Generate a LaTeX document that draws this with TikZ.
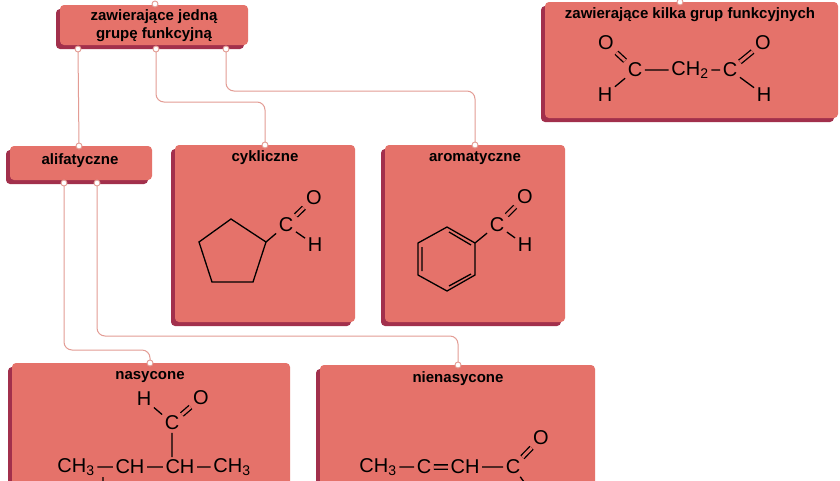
\documentclass[tikz,border=0pt]{standalone}
\usepackage{fontspec}
\setmainfont{Liberation Sans}
\usepackage{tikz}
\usetikzlibrary{calc}
\definecolor{boxfill}{HTML}{E5726A}
\definecolor{boxshade}{HTML}{A2304C}
\definecolor{linkcol}{HTML}{E39C94}
\tikzset{
  box/.style={draw=none, fill=boxfill, rounded corners=4pt, inner sep=0pt,
    font=\bfseries\fontsize{15}{18}\selectfont, align=center},
  shade/.style={fill=boxshade, rounded corners=4pt},
  link/.style={draw=linkcol, line width=1pt, rounded corners=8pt},
  port/.style={circle, draw=linkcol, fill=white, line width=0.9pt, inner sep=0pt, minimum size=6pt},
  atom/.style={font=\fontsize{20}{20}\selectfont, inner sep=2.5pt},
  bond/.style={line width=1.3pt},
  dbond/.style={bond, double=boxfill, double distance=3pt},
}
\newcommand{\shadedbox}[5]{% name, x1, y1, x2, y2
  \fill[shade] (#2-4,#3+4) rectangle (#4-4,#5+4);
  \path[box] (#2,#3) rectangle (#4,#5);
  \coordinate (#1) at (#2,#3);
}
\begin{document}
\begin{tikzpicture}[x=1pt,y=-1pt]
\useasboundingbox (0,0) rectangle (840,480);
\fill[white] (0,0) rectangle (840,480);

% boxes
\shadedbox{topA}{60}{5}{248}{45}
\shadedbox{topB}{545}{2}{838}{118}
\shadedbox{ali}{10}{146}{152}{180}
\shadedbox{cyk}{175}{145}{355}{322}
\shadedbox{aro}{385}{145}{565}{322}
\shadedbox{nas}{12}{363}{290}{500}
\shadedbox{nien}{320}{365}{595}{500}

% titles
\node[box, fill=none] (tA) at (154,26) {zawierające jedną\\grupę funkcyjną};
\node[box, fill=none] (tB) at (690,15) {zawierające kilka grup funkcyjnych};
\node[box, fill=none] (tAli) at (80,161) {alifatyczne};
\node[box, fill=none] (tCyk) at (265,158) {cykliczne};
\node[box, fill=none] (tAro) at (475,158) {aromatyczne};
\node[box, fill=none] (tNas) at (150,377) {nasycone};
\node[box, fill=none] (tNien) at (458,379) {nienasycone};

% ports
\coordinate (a0) at (155,4);
\coordinate (a1) at (78,49);
\coordinate (a2) at (156,49);
\coordinate (a3) at (226,49);
\coordinate (b0) at (680,2);
\coordinate (l0) at (79,146);
\coordinate (l1) at (64,183);
\coordinate (l2) at (97,183);
\coordinate (c0) at (265,145);
\coordinate (r0) at (475,145);
\coordinate (n0) at (150,363);
\coordinate (u0) at (458,365);

% links
\draw[link] (a1) -- (l0);
\draw[link] (a2) -- (156,102) -- (265,102) -- (c0);
\draw[link] (a3) -- (226,91) -- (475,91) -- (r0);
\draw[link] (l1) -- (64,350) -- (150,350) -- (n0);
\draw[link] (l2) -- (97,336) -- (458,336) -- (u0);
\foreach \p in {a0,a1,a2,a3,b0,l0,l1,l2,c0,r0,n0,u0}
  \node[port] at (\p) {};

% malonaldehyde
\node[atom] (m1) at (635,70) {C};
\node[atom] (m2) at (690,70) {CH\textsubscript{2}};
\node[atom] (m3) at (730,70) {C};
\node[atom] (mo1) at (606,43) {O};
\node[atom] (mo2) at (763,43) {O};
\node[atom] (mh1) at (605,95) {H};
\node[atom] (mh2) at (764,95) {H};
\draw[bond] (m1) -- (m2) (m2) -- (m3) (m1) -- (mh1) (m3) -- (mh2);
\draw[dbond] (m1) -- (mo1) (m3) -- (mo2);

% cyclopentanecarbaldehyde
\draw[bond] (231,219) -- (266,242) -- (253,282) -- (212,282) -- (199,242) -- cycle;
\node[atom] (cc) at (286,225) {C};
\node[atom] (co) at (314,198) {O};
\node[atom] (ch) at (315,245) {H};
\draw[bond] (266,242) -- (cc) (cc) -- (ch);
\draw[dbond] (cc) -- (co);

% benzaldehyde
\draw[bond] (447,227) -- (475,243) -- (475,275) -- (447,291) -- (418,275) -- (418,243) -- cycle;
\draw[bond] (422,247) -- (422,271) (449,232) -- (471,245) (471,274) -- (449,286);
\node[atom] (bc) at (497,225) {C};
\node[atom] (bo) at (525,197) {O};
\node[atom] (bh) at (525,245) {H};
\draw[bond] (475,243) -- (bc) (bc) -- (bh);
\draw[dbond] (bc) -- (bo);

% 2-methylbutanal
\node[atom] (s1) at (76,467) {CH\textsubscript{3}};
\node[atom] (s2) at (130,467) {CH};
\node[atom] (s3) at (180,467) {CH};
\node[atom] (s4) at (232,467) {CH\textsubscript{3}};
\node[atom] (sc) at (172,423) {C};
\node[atom] (sh) at (144,399) {H};
\node[atom] (so) at (201,398) {O};
\draw[bond] (s1) -- (s2) (s2) -- (s3) (s3) -- (s4) (sc) -- (s3.north -| sc) (sc) -- (sh) (103,477) -- (103,484);
\draw[dbond] (sc) -- (so);

% but-2-enal
\node[atom] (u1) at (378,467) {CH\textsubscript{3}};
\node[atom] (u2) at (424,467) {C};
\node[atom] (u3) at (465,467) {CH};
\node[atom] (u4) at (513,467) {C};
\node[atom] (uo) at (541,438) {O};
\draw[bond] (u1) -- (u2) (u3) -- (u4) (u4) -- (530,490);
\draw[dbond] (u2) -- (u3) (u4) -- (uo);
\end{tikzpicture}
\end{document}
